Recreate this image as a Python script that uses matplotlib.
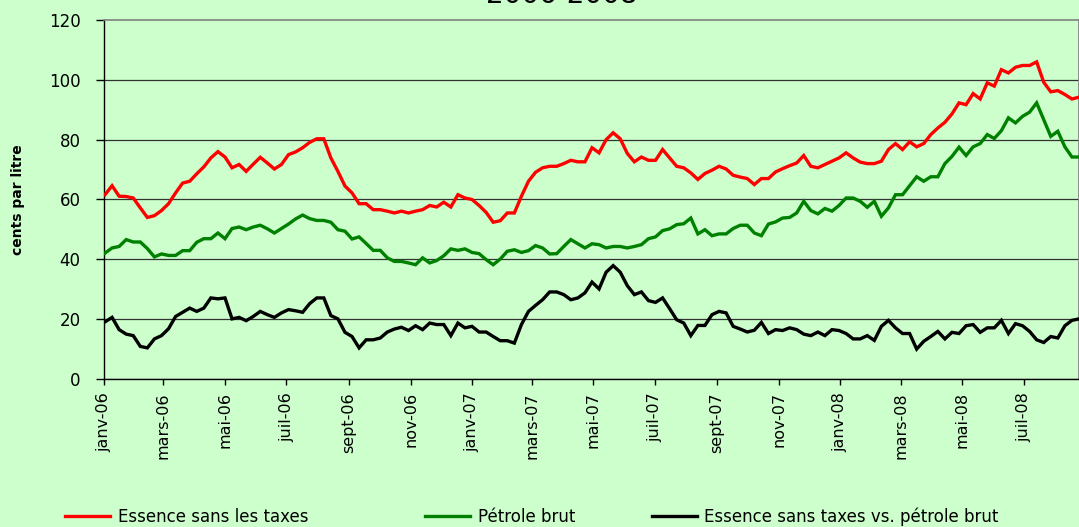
import matplotlib
matplotlib.use("Agg")
import matplotlib.pyplot as plt
import matplotlib.dates as mdates
import numpy as np
import pandas as pd

# weekly prices, cents per litre, from the first week of January 2006
essence = [
    61.6, 64.6, 61.1, 61.0, 60.5, 57.2, 54.0, 54.6, 56.3, 58.6, 62.2, 65.5, 66.1, 68.6, 70.9, 73.9, 76.0,
    74.2, 70.6, 71.7, 69.4, 71.8, 74.1, 72.2, 70.2, 71.7, 75.0, 75.9, 77.3, 79.1, 80.3, 80.3, 73.9, 69.4,
    64.5, 62.2, 58.6, 58.6, 56.6, 56.6, 56.1, 55.5, 56.1, 55.5, 56.1, 56.6, 58.0, 57.5, 59.1, 57.5, 61.6, 60.5,
    60.0, 58.0, 55.7, 52.4, 52.9, 55.5, 55.5, 61.1, 66.1, 69.1, 70.6, 71.1, 71.1, 72.0, 73.1, 72.6, 72.6, 77.3,
    75.6, 80.0, 82.3, 80.3, 75.4, 72.6, 74.2, 73.1, 73.1, 76.7, 73.9, 71.1, 70.6, 68.9, 66.7, 68.7, 69.8, 71.1,
    70.2, 68.1, 67.5, 67.0, 65.0, 67.0, 67.0, 69.2, 70.3, 71.3, 72.2, 74.7, 71.1, 70.6, 71.7, 72.8, 73.9,
    75.6, 73.9, 72.5, 72.0, 72.0, 72.8, 76.7, 78.7, 76.7, 79.3, 77.6, 78.7, 81.7, 83.9, 85.8, 88.6, 92.3, 91.7,
    95.4, 93.6, 99.0, 97.9, 103.4, 102.3, 104.2, 104.8, 104.8, 106.0, 99.2, 96.0, 96.4, 95.1, 93.6, 94.2,
]
petrole = [
    42.1, 43.8, 44.3, 46.6, 45.8, 45.8, 43.6, 40.8, 41.8, 41.3, 41.3, 42.9, 42.9, 45.7, 46.9, 46.9, 48.8,
    46.9, 50.3, 50.8, 49.9, 50.8, 51.4, 50.2, 48.8, 50.3, 51.8, 53.5, 54.8, 53.6, 53.0, 53.0, 52.4, 49.9,
    49.4, 46.8, 47.5, 45.3, 43.0, 43.0, 40.5, 39.3, 39.3, 38.8, 38.2, 40.5, 38.8, 39.6, 41.2, 43.5, 43.0, 43.5,
    42.3, 41.9, 39.9, 38.2, 40.1, 42.7, 43.2, 42.3, 42.9, 44.6, 43.8, 41.8, 41.9, 44.3, 46.6, 45.2, 43.8, 45.2,
    44.9, 43.8, 44.3, 44.3, 43.8, 44.3, 44.9, 46.9, 47.5, 49.6, 50.2, 51.6, 51.9, 53.8, 48.5, 49.9, 47.9, 48.5,
    48.5, 50.3, 51.4, 51.4, 48.8, 47.9, 51.8, 52.5, 53.8, 54.0, 55.5, 59.4, 56.3, 55.2, 57.0, 56.1, 58.0,
    60.5, 60.5, 59.4, 57.4, 59.4, 54.4, 57.2, 61.6, 61.6, 64.6, 67.6, 66.1, 67.6, 67.6, 72.0, 74.4, 77.5, 74.7,
    77.6, 78.7, 81.7, 80.4, 83.0, 87.3, 85.6, 87.8, 89.2, 92.3, 86.7, 81.1, 82.8, 77.6, 74.2, 74.2,
]
ecart = [
    19.1, 20.6, 16.5, 15.0, 14.5, 10.9, 10.4, 13.4, 14.5, 16.8, 20.9, 22.3, 23.7, 22.6, 23.7, 27.1, 26.8,
    27.1, 20.1, 20.6, 19.5, 20.9, 22.6, 21.5, 20.6, 22.1, 23.2, 22.8, 22.3, 25.2, 27.1, 27.1, 21.2, 20.1,
    15.6, 14.2, 10.4, 13.1, 13.1, 13.7, 15.7, 16.7, 17.3, 16.2, 17.8, 16.5, 18.7, 18.2, 18.2, 14.5, 18.7, 17.1,
    17.6, 15.7, 15.7, 14.2, 12.8, 12.8, 12.0, 18.2, 22.6, 24.6, 26.5, 29.1, 29.1, 28.2, 26.5, 27.1, 28.8, 32.4,
    30.1, 35.7, 37.9, 35.7, 31.2, 28.2, 29.1, 26.2, 25.6, 27.1, 23.5, 19.8, 18.7, 14.5, 17.9, 17.9, 21.5, 22.6,
    22.1, 17.6, 16.7, 15.7, 16.3, 18.9, 15.2, 16.5, 16.2, 17.1, 16.5, 15.0, 14.5, 15.7, 14.5, 16.5, 16.2,
    15.2, 13.4, 13.4, 14.5, 12.9, 17.6, 19.6, 17.1, 15.2, 15.2, 10.0, 12.6, 14.2, 15.9, 13.4, 15.6, 15.2, 17.8,
    18.2, 15.6, 17.1, 17.1, 19.6, 15.2, 18.5, 17.8, 15.9, 13.1, 12.2, 14.2, 13.7, 17.8, 19.6, 20.1,
]
series_names = ["Essence sans les taxes", "Pétrole brut", "Essence sans taxes vs. pétrole brut"]
series_colors = ["#FF0000", "#008000", "#000000"]
mois_fr = ["janv", "févr", "mars", "avr", "mai", "juin", "juil", "août", "sept", "oct", "nov", "déc"]
title = "2006-2008"

dates = pd.date_range("2006-01-02", periods=len(essence), freq="7D")
bg = "#CCFFCC"

fig = plt.figure(figsize=(10.79, 5.27), dpi=100, facecolor=bg)
ax = fig.add_axes([104 / 1079, 148 / 527, 975 / 1079, 359 / 527], facecolor=bg)

lines = []
for vals, name, col in zip([essence, petrole, ecart], series_names, series_colors):
    ln, = ax.plot(dates, vals, color=col, lw=2.4, label=name, zorder=3, solid_joinstyle="miter")
    lines.append(ln)

ax.set_ylim(0, 120)
ax.set_yticks(np.arange(0, 121, 20))
ax.set_xlim(pd.Timestamp("2006-01-01"), dates[-1])
ax.xaxis.set_major_locator(mdates.MonthLocator(bymonth=[1, 3, 5, 7, 9, 11]))
ax.xaxis.set_major_formatter(
    plt.FuncFormatter(lambda v, pos: "%s-%s" % (mois_fr[mdates.num2date(v).month - 1], mdates.num2date(v).strftime("%y")))
)

ax.yaxis.grid(True, color="#333333", lw=0.9, zorder=1)
ax.get_ygridlines()[-1].set_visible(False)
ax.set_axisbelow(True)

for side in ["top", "right"]:
    ax.spines[side].set_color("#808080")
    ax.spines[side].set_linewidth(1.2)
for side in ["left", "bottom"]:
    ax.spines[side].set_color("black")
    ax.spines[side].set_linewidth(1.0)

ax.tick_params(axis="y", direction="out", length=6, width=1, pad=11, labelsize=12)
ax.tick_params(axis="x", direction="out", length=4.5, width=1, pad=5, labelsize=11.5, labelrotation=90)

ax.set_ylabel("cents par litre", fontsize=10, fontweight="bold")
ax.yaxis.set_label_coords((25 - 104) / 975, 0.5)

# title sits mostly above the top edge, as in the original export
fig.text(562 / 1079, 1 - 3 / 527, title, ha="center", va="baseline", fontsize=20)

leg_x = [65, 425, 652]
for ln, x in zip(lines, leg_x):
    fig.legend(handles=[ln], loc="center left", bbox_to_anchor=(x / 1079, 1 - 517 / 527),
               frameon=False, borderpad=0, borderaxespad=0, handlelength=2.7,
               handletextpad=0.45, fontsize=12)

fig.savefig("out.png", dpi=100, facecolor=bg)
